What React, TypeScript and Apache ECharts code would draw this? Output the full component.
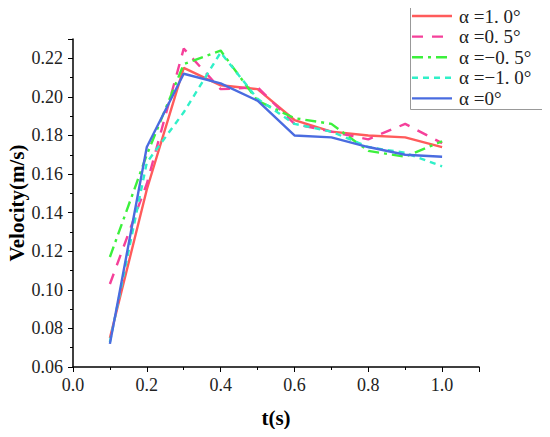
import React, { useEffect, useRef } from "react";
import * as echarts from "echarts";

const times = [0.1, 0.2, 0.3, 0.4, 0.5, 0.6, 0.7, 0.8, 0.9, 1.0];
const seriesNames = ["α =1. 0°", "α =0. 5°", "α =−0. 5°", "α =−1. 0°", "α =0°"];
const alpha10 = [0.075, 0.152, 0.215, 0.206, 0.204, 0.188, 0.182, 0.18, 0.179, 0.174];
const alpha05 = [0.103, 0.155, 0.225, 0.204, 0.205, 0.186, 0.182, 0.178, 0.186, 0.176];
const alphaM05 = [0.117, 0.17, 0.217, 0.224, 0.198, 0.189, 0.186, 0.172, 0.169, 0.177];
const alphaM10 = [0.073, 0.166, 0.192, 0.223, 0.199, 0.186, 0.182, 0.174, 0.171, 0.164];
const alpha0 = [0.072, 0.174, 0.212, 0.207, 0.198, 0.18, 0.179, 0.174, 0.17, 0.169];
const xTicks = [0, 0.2, 0.4, 0.6, 0.8, 1.0];
const yTicks = [0.06, 0.08, 0.1, 0.12, 0.14, 0.16, 0.18, 0.2, 0.22];

const allValues = [alpha10, alpha05, alphaM05, alphaM10, alpha0];
const colors = ["#FF5B5B", "#F5409A", "#3CF03C", "#30F0C8", "#4A6CE0"];
const dashes: any[] = ["solid", [11, 9], [11, 5, 3, 5], [6, 5], "solid"];
const dashArr: any[] = [null, [11, 9], [11, 5, 3, 5], [6, 5], null];

export default function App() {
  const ref = useRef<HTMLDivElement>(null);
  useEffect(() => {
    if (!ref.current) return;
    const chart = echarts.init(ref.current, undefined, { renderer: "svg" });
    const serif = "Liberation Serif";
    const legendEls: any[] = [
      {
        type: "rect",
        shape: { x: 410.5, y: 4.5, width: 134, height: 105 },
        style: { fill: "#fff", stroke: "#999", lineWidth: 1 },
        z: 100,
      },
    ];
    seriesNames.forEach((name, i) => {
      const y = 16 + i * 20.6;
      legendEls.push({
        type: "line",
        shape: { x1: 412, y1: y, x2: 452, y2: y },
        style: { stroke: colors[i], lineWidth: 2.4, lineDash: dashArr[i] },
        z: 101,
      });
      legendEls.push({
        type: "text",
        x: 459,
        y: y,
        style: {
          text: name,
          fontFamily: serif,
          fontSize: 19,
          fill: "#222",
          verticalAlign: "middle",
          align: "left",
        },
        z: 101,
      });
    });
    chart.setOption({
      animation: false,
      backgroundColor: "#ffffff",
      textStyle: { fontFamily: serif },
      grid: { left: 73, right: 71, top: 39, bottom: 70, outerBoundsMode: "none", containLabel: false },
      graphic: legendEls,
      xAxis: {
        type: "value",
        min: 0,
        max: 1.1,
        interval: 0.2,
        axisLine: { lineStyle: { color: "#000", width: 1.5 } },
        axisTick: { show: true, inside: false, length: 5, lineStyle: { color: "#000" } },
        minorTick: { show: true, splitNumber: 2, length: 3, lineStyle: { color: "#000" } },
        splitLine: { show: false },
        axisLabel: {
          fontFamily: serif,
          fontSize: 18,
          color: "#222",
          margin: 9,
          formatter: (v: number) =>
            xTicks.some((t) => Math.abs(t - v) < 1e-6) ? v.toFixed(1) : "",
        },
        name: "t(s)",
        nameLocation: "middle",
        nameGap: 40,
        nameMoveOverlap: false,
        nameTextStyle: { fontFamily: serif, fontSize: 21, fontWeight: "bold", color: "#000" },
      },
      yAxis: {
        type: "value",
        min: 0.06,
        max: 0.23,
        interval: 0.02,
        axisLine: { show: true, lineStyle: { color: "#000", width: 1.5 } },
        axisTick: { show: true, inside: false, length: 5, lineStyle: { color: "#000" } },
        minorTick: { show: true, splitNumber: 2, length: 3, lineStyle: { color: "#000" } },
        splitLine: { show: false },
        axisLabel: {
          fontFamily: serif,
          fontSize: 18,
          color: "#222",
          margin: 10,
          formatter: (v: number) =>
            yTicks.some((t) => Math.abs(t - v) < 1e-6) ? v.toFixed(2) : "",
        },
        name: "Velocity(m/s)",
        nameLocation: "middle",
        nameGap: 46,
        nameMoveOverlap: false,
        nameTextStyle: { fontFamily: serif, fontSize: 21, fontWeight: "bold", color: "#000" },
      },
      series: seriesNames.map((name, i) => ({
        name,
        type: "line",
        symbol: "none",
        data: times.map((t, j) => [t, allValues[i][j]]),
        lineStyle: { color: colors[i], width: 2.4, type: dashes[i] },
        itemStyle: { color: colors[i] },
        z: 2 + i,
      })),
    });
    return () => chart.dispose();
  }, []);
  return <div ref={ref} style={{ width: 550, height: 437, margin: -8 }} />;
}
